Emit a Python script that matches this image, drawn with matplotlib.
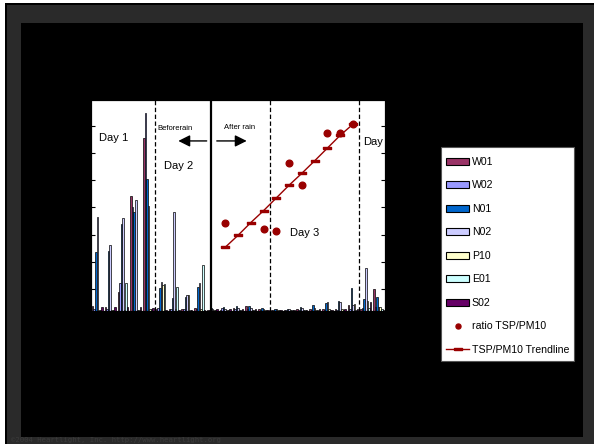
import matplotlib
matplotlib.use("Agg")
import matplotlib.pyplot as plt
from matplotlib.patches import Rectangle, Patch
from matplotlib.lines import Line2D
import numpy as np

# ---------------- data ----------------
series = ["W01", "W02", "N01", "N02", "P10", "E01", "S02"]
colors = ["#993366", "#9999FF", "#0066CC", "#CCCCFF", "#FFFFCC", "#CCFFFF", "#660066"]
n_cat = 23

W01 = [2.4, 1.9, 9.0, 54.5, 82.0, 1.0, 1.0, 1.0, 1.4, 0.5, 0.5, 1.4, 2.4, 0.8, 0.5, 0.5, 0.8, 1.0, 0.8, 1.0, 2.7, 1.0, 10.3]
W02 = [1.0, 1.0, 13.3, 49.3, 93.8, 1.4, 1.0, 1.0, 1.0, 0.5, 1.5, 1.0, 1.0, 0.5, 0.5, 0.5, 0.5, 0.5, 0.5, 0.5, 1.0, 1.4, 2.0]
N01 = [28.0, 28.4, 41.2, 47.0, 62.6, 10.9, 6.2, 6.6, 11.4, 1.5, 1.8, 2.4, 2.4, 1.4, 1.0, 1.0, 2.0, 2.7, 3.9, 4.7, 10.8, 5.5, 6.5]
N02 = [44.5, 31.3, 44.0, 52.6, 49.8, 13.7, 46.9, 7.6, 13.3, 1.0, 1.0, 1.5, 1.5, 1.0, 0.8, 1.0, 1.5, 1.5, 4.1, 4.3, 3.0, 20.2, 2.0]
P10 = [0.5, 0.5, 0.5, 0.5, 1.0, 12.3, 1.0, 7.6, 1.0, 0.5, 0.5, 0.5, 0.5, 0.5, 0.5, 0.5, 0.5, 0.5, 0.8, 1.0, 3.2, 4.7, 1.9]
E01 = [0.5, 0.5, 13.3, 0.5, 1.0, 12.8, 11.4, 0.5, 21.8, 0.5, 0.5, 0.5, 0.5, 0.5, 0.5, 0.5, 0.5, 0.5, 0.5, 0.5, 0.5, 1.4, 1.0]
S02 = [1.9, 1.9, 1.9, 1.9, 1.4, 0.5, 0.5, 0.5, 0.5, 1.0, 0.8, 1.0, 0.8, 0.5, 0.5, 0.5, 0.5, 0.8, 0.5, 0.8, 1.0, 4.3, 0.5]
bar_values = [W01, W02, N01, N02, P10, E01, S02]

ratio_cat = [10, 13, 14, 15, 16, 18, 19, 20]
ratio_val = [3.44, 3.19, 3.14, 5.64, 4.82, 6.76, 6.75, 7.07]
trend_cat = [10, 11, 12, 13, 14, 15, 16, 17, 18, 19, 20]
trend_val = [2.53, 2.97, 3.44, 3.88, 4.35, 4.82, 5.26, 5.72, 6.19, 6.66, 7.07]

# ---------------- figure & slide frame ----------------
W, H = 594, 444
fig = plt.figure(figsize=(W / 100, H / 100), dpi=100, facecolor="white")

def frect(x0, y0, x1, y1, color, z=-10, ec="none", lw=0):
    r = Rectangle((x0 / W, 1 - y1 / H), (x1 - x0) / W, (y1 - y0) / H,
                  transform=fig.transFigure, facecolor=color,
                  edgecolor=ec, linewidth=lw, zorder=z)
    fig.add_artist(r)
    return r

frect(5, 3, 594, 444, "black")
frect(7, 5, 594, 444, "#2a2a2a")
frect(21, 23, 583, 437, "black")
fig.text(11 / W, 1 - 440 / H, "\u00a92004 Heartlight, Inc. http://www.heartlight.org",
         fontsize=5.2, family="DejaVu Sans Mono", color="#3c3c3c", va="center", ha="left")

# ---------------- axes ----------------
ax = fig.add_axes([91 / W, 1 - 311 / H, 294 / W, 211 / H])
ax.set_facecolor("white")
ax.set_xlim(-0.5, n_cat - 0.5)
ax.set_ylim(0, 100)

bw = 1 / 8.2
x = np.arange(n_cat)
for i, (vals, col) in enumerate(zip(bar_values, colors)):
    ax.bar(x + (i - 3) * bw, vals, width=bw, color=col, edgecolor="black",
           linewidth=0.5, zorder=2)

for s in ax.spines.values():
    s.set_color("black")
ax.set_xticks([])
ax.tick_params(axis="y", direction="in", length=3, color="black", labelleft=False)

ax2 = ax.twinx()
ax2.set_ylim(0.18, 7.96)
ax2.set_yticks(range(1, 8))
ax2.tick_params(axis="y", direction="in", length=3, color="black", labelright=False)
r0, r1 = ax2.get_ylim()
ax.set_yticks([(t - r0) / (r1 - r0) * 100 for t in range(1, 8)])

rect_marker = [(-1, -0.38), (1, -0.38), (1, 0.38), (-1, 0.38), (-1, -0.38)]
ax2.plot(trend_cat, trend_val, color="#990000", linewidth=1.0,
         marker=rect_marker, markersize=5.5, zorder=3)
ax2.plot(ratio_cat, ratio_val, linestyle="none", marker="o", color="#990000",
         markersize=4.8, zorder=4)

# separators
for xv in [4.5, 13.5, 20.5]:
    ax.axvline(xv, color="black", linestyle=(0, (3.5, 2)), linewidth=0.9, zorder=5)
ax.axvline(8.89, color="black", linewidth=1.6, zorder=5)

# annotations
narrow = ["Liberation Sans Narrow", "Liberation Sans", "DejaVu Sans"]
tr = ax.get_xaxis_transform()
ax.text(0.13, 0.822, "Day 1", transform=tr, fontsize=8, family=narrow, va="center", ha="left", zorder=6)
ax.text(5.21, 0.687, "Day 2", transform=tr, fontsize=8, family=narrow, va="center", ha="left", zorder=6)
ax.text(15.07, 0.370, "Day 3", transform=tr, fontsize=8, family=narrow, va="center", ha="left", zorder=6)
ax.text(20.78, 0.799, "Day", transform=tr, fontsize=8, family=narrow, va="center", ha="left", zorder=6)
ax.text(4.72, 0.867, "Beforerain", transform=tr, fontsize=5.5, family=narrow, va="center", ha="left", zorder=6)
ax.text(9.91, 0.870, "After rain", transform=tr, fontsize=5.5, family=narrow, va="center", ha="left", zorder=6)

ax.annotate("", xy=(6.33, 0.806), xytext=(8.55, 0.806), xycoords=tr, textcoords=tr,
            arrowprops=dict(arrowstyle="-|>,head_length=0.7,head_width=0.35",
                            color="black", lw=1.0, shrinkA=0, shrinkB=0), zorder=6)
ax.annotate("", xy=(11.68, 0.806), xytext=(9.34, 0.806), xycoords=tr, textcoords=tr,
            arrowprops=dict(arrowstyle="-|>,head_length=0.7,head_width=0.35",
                            color="black", lw=1.0, shrinkA=0, shrinkB=0), zorder=6)

# ---------------- legend ----------------
frect(441, 147, 574, 361, "white", z=4, ec="#555555", lw=0.8)
handles = [Patch(facecolor=c, edgecolor="black", linewidth=0.8) for c in colors]
handles.append(Line2D([], [], linestyle="none", marker="o", color="#990000", markersize=3.6))
handles.append(Line2D([], [], color="#990000", linewidth=1.0, marker=rect_marker, markersize=5.5))
labels = series + ["ratio TSP/PM10", "TSP/PM10 Trendline"]
leg = fig.legend(handles, labels, loc="upper left",
                 bbox_to_anchor=(441 / W, 1 - 151.5 / H), bbox_transform=fig.transFigure,
                 prop={"family": ["Liberation Sans", "DejaVu Sans"], "size": 7.6},
                 frameon=False, handlelength=2.15, handleheight=0.65,
                 handletextpad=0.28, labelspacing=1.28, borderpad=0.5,
                 borderaxespad=0)
leg.set_zorder(6)

fig.savefig("out.png", dpi=100, facecolor=fig.get_facecolor())
